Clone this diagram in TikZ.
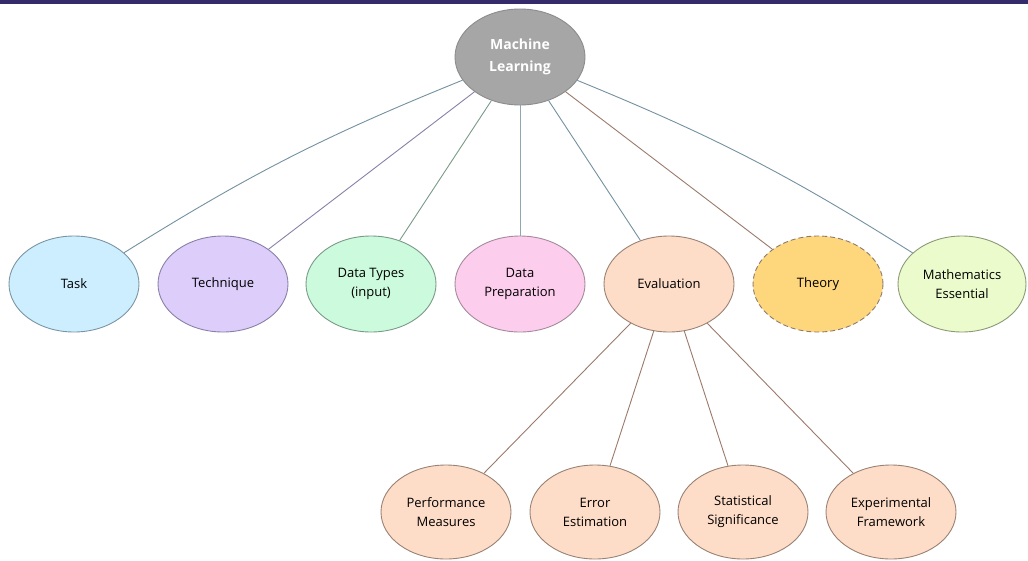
\documentclass[tikz,border=0pt]{standalone}
\usepackage{fontspec}
\setmainfont{Open Sans}
\usetikzlibrary{shapes.geometric}
\definecolor{barc}{HTML}{352A6A}
\definecolor{rootf}{HTML}{A6A6A6}
\definecolor{rootd}{HTML}{8C8C8C}
\definecolor{taskf}{HTML}{CDEEFF}
\definecolor{taskd}{HTML}{7A95A2}
\definecolor{techf}{HTML}{DCCDFB}
\definecolor{techd}{HTML}{8A80A6}
\definecolor{dataf}{HTML}{CCFADC}
\definecolor{datad}{HTML}{7A9A88}
\definecolor{prepf}{HTML}{FDCDEE}
\definecolor{prepd}{HTML}{A48A9A}
\definecolor{evalf}{HTML}{FDDCC8}
\definecolor{evald}{HTML}{9A8274}
\definecolor{theof}{HTML}{FED67C}
\definecolor{theod}{HTML}{8C7A70}
\definecolor{mathf}{HTML}{EBFBCB}
\definecolor{mathd}{HTML}{8A9A78}
\definecolor{blueln}{HTML}{7391A0}
\definecolor{purpln}{HTML}{8A7FA8}
\definecolor{greenln}{HTML}{7A9A88}
\definecolor{brownln}{HTML}{9A7A6A}
\tikzset{
  bubble/.style={ellipse, draw, line width=0.9pt, minimum width=130pt, minimum height=96pt,
    inner sep=0pt, align=center, font=\fontsize{13}{19}\selectfont},
  link/.style={line width=0.9pt}
}
\begin{document}
\begin{tikzpicture}[x=1pt,y=-1pt]
\useasboundingbox (0,0) rectangle (1028,560);
\fill[barc] (0,0) rectangle (1028,4);
% nodes
\node[bubble, fill=rootf, draw=rootd, text=white, font=\fontsize{14}{22}\selectfont\bfseries] (root) at (520,57) {Machine\\Learning};
\node[bubble, fill=taskf, draw=taskd] (task) at (74,284) {Task};
\node[bubble, fill=techf, draw=techd] (tech) at (223,284) {Technique};
\node[bubble, fill=dataf, draw=datad] (data) at (371,284) {Data Types\\(input)};
\node[bubble, fill=prepf, draw=prepd] (prep) at (520,284) {Data\\Preparation};
\node[bubble, fill=evalf, draw=evald] (eval) at (669,284) {Evaluation};
\node[bubble, fill=theof, draw=theod, dashed, dash pattern=on 5pt off 3pt] (theo) at (818,284) {Theory};
\node[bubble, fill=mathf, draw=mathd, minimum width=128pt] (math) at (962,284) {Mathematics\\Essential};
\node[bubble, fill=evalf, draw=evald, minimum height=94pt] (perf) at (446,512) {Performance\\Measures};
\node[bubble, fill=evalf, draw=evald, minimum height=94pt] (err) at (595,512) {Error\\Estimation};
\node[bubble, fill=evalf, draw=evald, minimum height=94pt] (stat) at (743,512) {Statistical\\Significance};
\node[bubble, fill=evalf, draw=evald, minimum height=94pt] (expf) at (891,512) {Experimental\\Framework};
% connectors
\draw[link, blueln] (root) to[bend right=5] (task);
\draw[link, purpln] (root) -- (tech);
\draw[link, greenln] (root) -- (data);
\draw[link, blueln!80] (root) -- (prep);
\draw[link, blueln] (root) -- (eval);
\draw[link, brownln] (root) -- (theo);
\draw[link, blueln] (root) to[bend left=5] (math);
\draw[link, brownln] (eval) -- (perf);
\draw[link, brownln] (eval) -- (err);
\draw[link, brownln] (eval) -- (stat);
\draw[link, brownln] (eval) -- (expf);
\end{tikzpicture}
\end{document}
